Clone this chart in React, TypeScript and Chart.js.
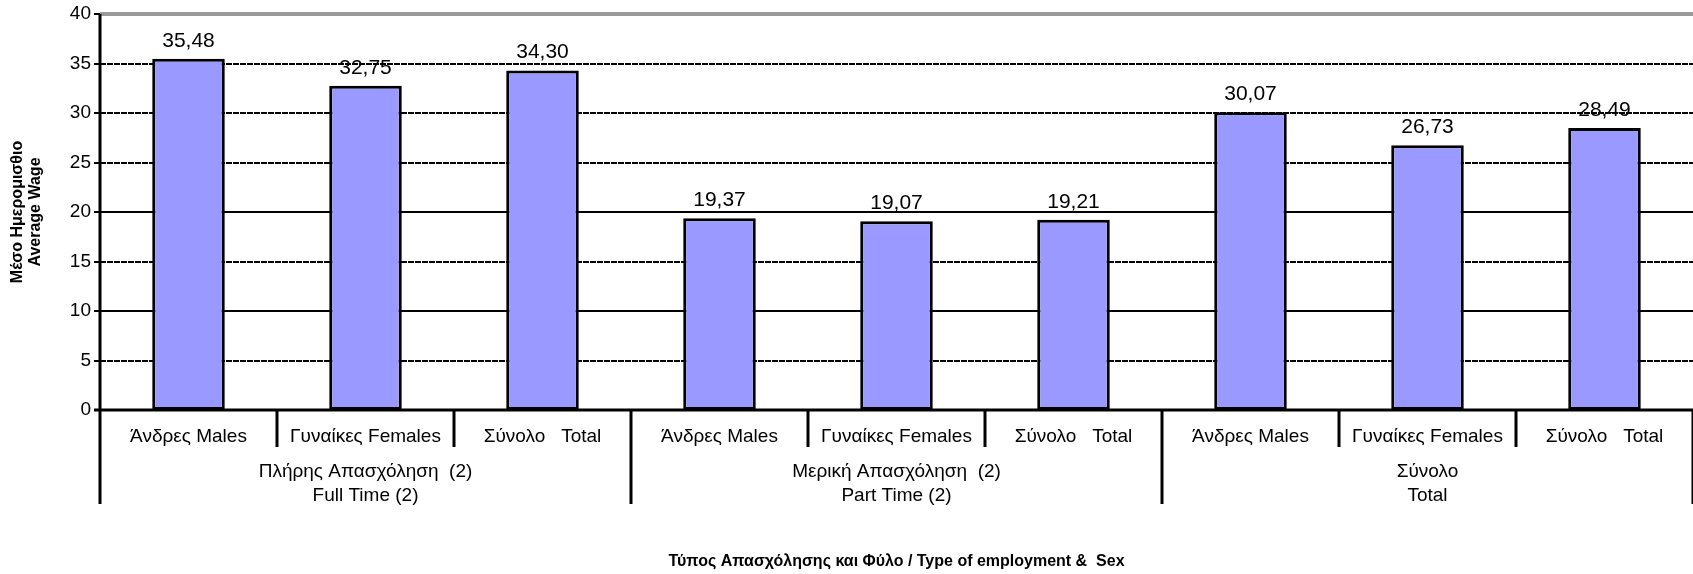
import React, { useEffect, useRef } from "react";
import { Chart, registerables } from "chart.js";

Chart.register(...registerables);

const categories = [
  "Άνδρες Males",
  "Γυναίκες Females",
  "Σύνολο   Total",
  "Άνδρες Males",
  "Γυναίκες Females",
  "Σύνολο   Total",
  "Άνδρες Males",
  "Γυναίκες Females",
  "Σύνολο   Total",
];
const wages = [35.48, 32.75, 34.3, 19.37, 19.07, 19.21, 30.07, 26.73, 28.49];
const groupLines1 = ["Πλήρης Απασχόληση  (2)", "Μερική Απασχόληση  (2)", "Σύνολο"];
const groupLines2 = ["Full Time (2)", "Part Time (2)", "Total"];
const groupSize = 3;
const yTicks = [0, 5, 10, 15, 20, 25, 30, 35, 40];
const yTitle = ["Μέσο Ημερομισθιο", "Average Wage"];
const xTitle = "Τύπος Απασχόλησης και Φύλο / Type of employment &  Sex";

const FONT = "'Liberation Sans', Arial, sans-serif";

const gridPlugin = {
  id: "customGrid",
  beforeDatasetsDraw(chart: any) {
    const { ctx, chartArea } = chart;
    const y = chart.scales.y;
    ctx.save();
    yTicks.forEach((v) => {
      const py = Math.round(y.getPixelForValue(v));
      ctx.beginPath();
      if (v === 40) {
        ctx.strokeStyle = "#999999";
        ctx.lineWidth = 4;
        ctx.setLineDash([]);
      } else {
        ctx.strokeStyle = "#000";
        ctx.lineWidth = 2;
        ctx.setLineDash(v % 10 === 0 && v !== 30 ? [] : [6, 1]);
      }
      ctx.moveTo(chartArea.left, py);
      ctx.lineTo(chartArea.right, py);
      ctx.stroke();
      ctx.setLineDash([]);
      ctx.strokeStyle = "#000";
      ctx.lineWidth = 2;
      ctx.beginPath();
      ctx.moveTo(chartArea.left - 6, py);
      ctx.lineTo(chartArea.left, py);
      ctx.stroke();
    });
    ctx.restore();
  },
  afterDatasetsDraw(chart: any) {
    const { ctx, chartArea } = chart;
    const x = chart.scales.x;
    const meta = chart.getDatasetMeta(0);
    ctx.save();
    ctx.fillStyle = "#000";
    ctx.font = `21px ${FONT}`;
    ctx.textAlign = "center";
    ctx.textBaseline = "alphabetic";
    meta.data.forEach((bar: any, i: number) => {
      ctx.fillText(wages[i].toFixed(2).replace(".", ","), bar.x, bar.y - 12);
    });
    const y0 = Math.round(chart.scales.y.getPixelForValue(0));
    ctx.strokeStyle = "#000";
    ctx.lineWidth = 3;
    ctx.beginPath();
    ctx.moveTo(chartArea.left - 6, y0);
    ctx.lineTo(chartArea.right, y0);
    ctx.stroke();
    ctx.beginPath();
    ctx.moveTo(chartArea.left, chartArea.top);
    ctx.lineTo(chartArea.left, y0);
    ctx.stroke();
    const n = categories.length;
    for (let i = 0; i <= n; i++) {
      let px: number;
      if (i === 0) px = chartArea.left;
      else if (i === n) px = chartArea.right;
      else px = (x.getPixelForValue(i - 1) + x.getPixelForValue(i)) / 2;
      const isGroup = i % groupSize === 0;
      ctx.beginPath();
      ctx.moveTo(Math.round(px), y0);
      ctx.lineTo(Math.round(px), isGroup ? 504 : 447);
      ctx.stroke();
    }
    ctx.font = `19px ${FONT}`;
    ctx.textBaseline = "middle";
    groupLines1.forEach((t, g) => {
      const cx = x.getPixelForValue(g * groupSize + 1);
      ctx.fillText(t, cx, 472);
      ctx.fillText(groupLines2[g], cx, 496);
    });
    ctx.restore();
  },
};

export default function App() {
  const ref = useRef<HTMLCanvasElement | null>(null);
  useEffect(() => {
    document.body.style.margin = "0";
    if (!ref.current) return;
    const chart = new Chart(ref.current, {
      type: "bar",
      data: {
        labels: categories,
        datasets: [
          {
            data: wages,
            backgroundColor: "#9999FF",
            borderColor: "#000000",
            borderWidth: 3,
            borderSkipped: false,
            categoryPercentage: 1,
            barPercentage: 0.41,
          },
        ],
      },
      options: {
        animation: false,
        responsive: true,
        maintainAspectRatio: false,
        layout: { padding: { top: 0, right: 0, bottom: 0, left: 0 } },
        plugins: { legend: { display: false }, tooltip: { enabled: false } },
        scales: {
          x: {
            grid: { display: false, drawTicks: false },
            border: { display: false },
            ticks: {
              color: "#000",
              font: { family: FONT, size: 19 },
              padding: 15,
              maxRotation: 0,
              autoSkip: false,
            },
            title: {
              display: true,
              text: xTitle,
              color: "#000",
              font: { family: FONT, size: 16, weight: "bold" },
              padding: { top: 0, bottom: 3 },
            },
            afterFit(scale: any) {
              scale.height = 164;
            },
          },
          y: {
            min: 0,
            max: 40,
            grid: { display: false, drawTicks: false },
            border: { display: false },
            ticks: {
              stepSize: 5,
              color: "#000",
              font: { family: FONT, size: 19, lineHeight: 1.4 },
              padding: 9,
            },
            title: {
              display: true,
              text: yTitle,
              color: "#000",
              font: { family: FONT, size: 16, weight: "bold", lineHeight: 1.1 },
              padding: { top: 9, bottom: 0 },
            },
            afterFit(scale: any) {
              scale.width = 100;
              scale.paddingTop = 14;
            },
          },
        },
      },
      plugins: [gridPlugin],
    });
    return () => chart.destroy();
  }, []);
  return (
    <div style={{ width: 1693, height: 574, position: "relative" }}>
      <canvas ref={ref} />
    </div>
  );
}
